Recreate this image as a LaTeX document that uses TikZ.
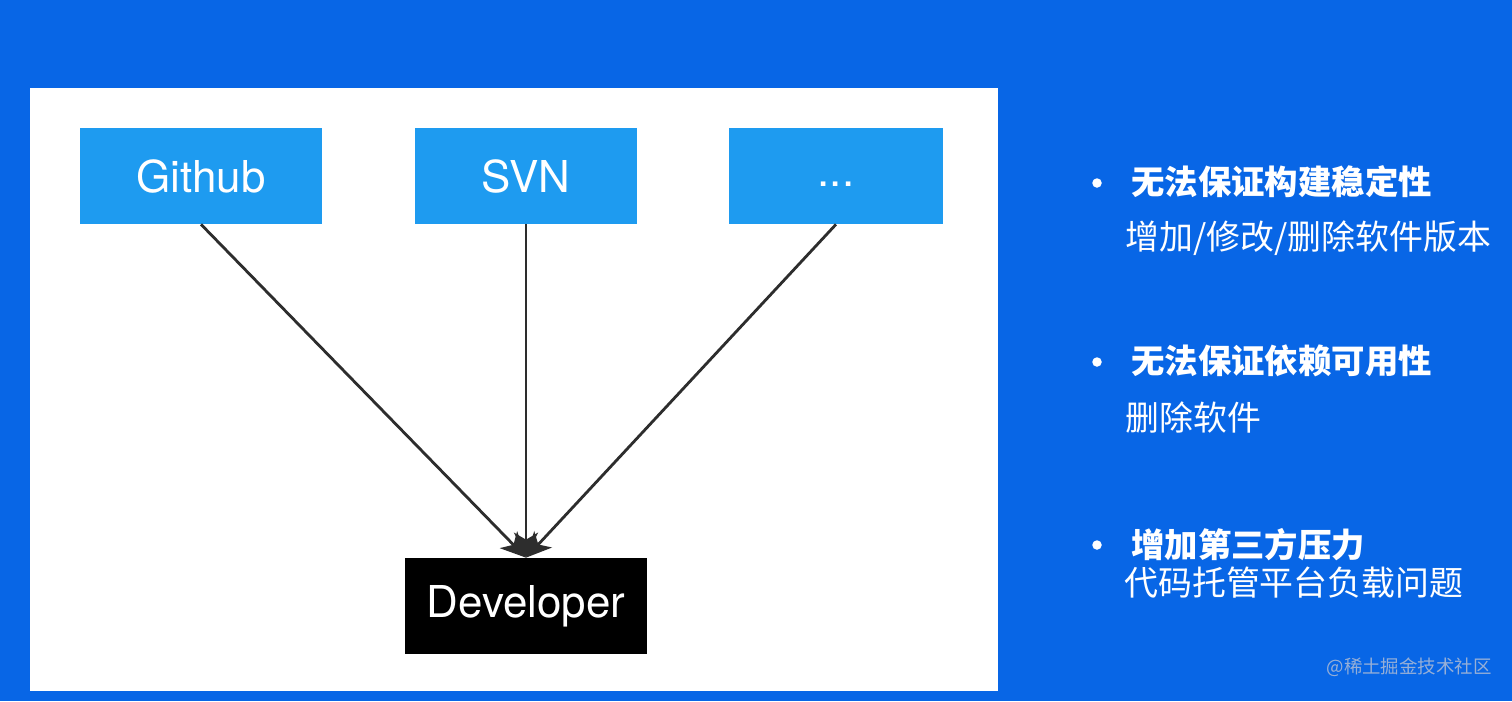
\documentclass[tikz,border=0pt]{standalone}
\usepackage{fontspec}
\setmainfont{TeX Gyre Heros}
\newfontfamily\cjk{Noto Sans CJK SC}
\usetikzlibrary{arrows.meta,positioning}
\definecolor{slidebg}{RGB}{8,102,230}
\definecolor{repoblue}{RGB}{30,155,240}
\definecolor{arrowgrey}{RGB}{45,45,45}
\definecolor{markgrey}{RGB}{150,175,215}
\tikzset{
  repo/.style={
    rectangle, fill=repoblue, text=white,
    minimum height=1.92cm, inner sep=0pt,
    font=\fontsize{25}{30}\selectfont
  },
  devbox/.style={
    rectangle, fill=black, text=white,
    minimum width=4.84cm, minimum height=1.92cm, inner sep=0pt,
    font=\fontsize{25}{30}\selectfont
  },
  arrow/.style={-{Stealth[length=0.5cm, width=0.48cm, inset=0.14cm]}, line width=1.6pt, arrowgrey},
  headline/.style={anchor=west, text=white, inner sep=0pt, font=\cjk\bfseries\fontsize{19}{23}\selectfont},
  subline/.style={anchor=west, text=white, inner sep=0pt, font=\cjk\fontsize{19.3}{23}\selectfont},
  dot/.style={circle, fill=white, inner sep=0pt, minimum size=0.19cm}
}
\begin{document}
\begin{tikzpicture}[x=0.02cm, y=-0.02cm]

% Slide and panel
\fill[slidebg] (0,0) rectangle (1512,701);
\useasboundingbox (0,0) rectangle (1512,701);
\fill[white] (30,88) rectangle (998,691);

% Repositories
\node[repo, minimum width=4.84cm] (github) at (201,176) {Github};
\node[repo, minimum width=4.44cm] (svn) at (526,176) {SVN};
\node[repo, minimum width=4.28cm] (more) at (836,176) {\strut...};

% Developer
\node[devbox] (dev) at (526,606) {Developer};
\draw[arrow] (github.south) -- (dev.north);
\draw[arrow] (svn.south) -- (dev.north);
\draw[arrow] (more.south) -- (dev.north);

% Problems
\node[dot] (b1) at (1097,183) {};
\node[headline] (t1) at (1131,182) {无法保证构建稳定性};
\node[subline] (s1) at (1125,238) {增加/修改/删除软件版本};

\node[dot] (b2) at (1097,362) {};
\node[headline] (t2) at (1131,361) {无法保证依赖可用性};
\node[subline] (s2) at (1125,418) {删除软件};

\node[dot] (b3) at (1097,545) {};
\node[headline] (t3) at (1131,545) {增加第三方压力};
\node[subline] (s3) at (1124,583) {代码托管平台负载问题};

% Watermark
\node[anchor=east, text=markgrey, inner sep=0pt, font=\cjk\fontsize{10.5}{12}\selectfont] (mark) at (1492,667) {@稀土掘金技术社区};

\end{tikzpicture}
\end{document}
